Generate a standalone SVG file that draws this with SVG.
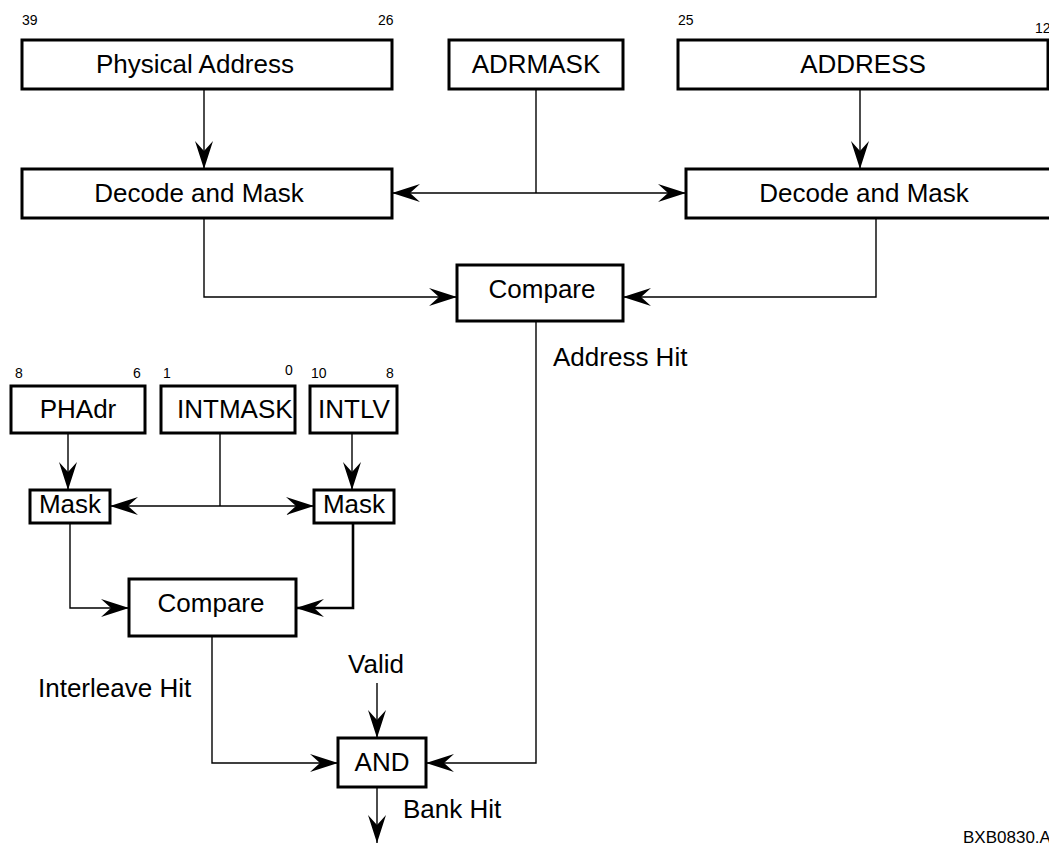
<svg xmlns="http://www.w3.org/2000/svg" width="1049" height="844" viewBox="0 0 1049 844">
  <style>
    .box { fill: #fff; stroke: #000; stroke-width: 3; }
    .wire { fill: none; stroke: #000; stroke-width: 1.4; }
    .wire.heavy { stroke-width: 2.6; }
    .lbl { font-family: "Liberation Sans", Arial, sans-serif; font-size: 26px; fill: #000; }
    .mid { text-anchor: middle; }
    .bit { font-family: "Liberation Sans", Arial, sans-serif; font-size: 14px; fill: #000; }
    .tag { font-family: "Liberation Sans", Arial, sans-serif; font-size: 17px; fill: #000; }
  </style>
  <defs>
    <marker id="head" viewBox="0 0 28 18" refX="28" refY="9" markerWidth="28" markerHeight="18" markerUnits="userSpaceOnUse" orient="auto">
      <path d="M0,0 L28,9 L0,18 L10,9 Z" fill="#000"/>
    </marker>
  </defs>
  <rect width="1049" height="844" fill="#fff"/>

  <!-- connectors -->
  <g id="connectors">
    <line class="wire" x1="204" y1="89" x2="204" y2="169" marker-end="url(#head)"/>
    <line class="wire" x1="860" y1="89" x2="860" y2="169" marker-end="url(#head)"/>
    <line class="wire" x1="536" y1="89" x2="536" y2="193"/>
    <line class="wire" x1="536" y1="193" x2="392" y2="193" marker-end="url(#head)"/>
    <line class="wire" x1="536" y1="193" x2="686" y2="193" marker-end="url(#head)"/>
    <polyline class="wire" points="204,218 204,297 457,297" marker-end="url(#head)"/>
    <polyline class="wire" points="876,218 876,297 623,297" marker-end="url(#head)"/>
    <polyline class="wire" points="536,321 536,763 426,763" marker-end="url(#head)"/>

    <line class="wire" x1="68" y1="433" x2="68" y2="490" marker-end="url(#head)"/>
    <line class="wire" x1="352" y1="433" x2="352" y2="490" marker-end="url(#head)"/>
    <line class="wire" x1="220" y1="433" x2="220" y2="506"/>
    <line class="wire" x1="220" y1="506" x2="110" y2="506" marker-end="url(#head)"/>
    <line class="wire" x1="220" y1="506" x2="314" y2="506" marker-end="url(#head)"/>
    <polyline class="wire" points="70,523 70,608 129,608" marker-end="url(#head)"/>
    <polyline class="wire heavy" points="353,523 353,608 296,608" marker-end="url(#head)"/>
    <polyline class="wire" points="212,636 212,763 338,763" marker-end="url(#head)"/>

    <line class="wire" x1="377" y1="683" x2="377" y2="738" marker-end="url(#head)"/>
    <line class="wire" x1="377" y1="787" x2="377" y2="843" marker-end="url(#head)"/>
  </g>

  <!-- address path -->
  <g id="physical-address">
    <rect class="box" x="22" y="40" width="370" height="49"/>
    <text class="lbl mid" x="195" y="73">Physical Address</text>
    <text class="bit" x="22" y="25">39</text>
    <text class="bit" x="378" y="25">26</text>
  </g>
  <g id="adrmask">
    <rect class="box" x="449" y="40" width="174" height="49"/>
    <text class="lbl mid" x="536" y="73">ADRMASK</text>
  </g>
  <g id="address">
    <rect class="box" x="678" y="40" width="370" height="49"/>
    <text class="lbl mid" x="863" y="73">ADDRESS</text>
    <text class="bit" x="678" y="25">25</text>
    <text class="bit" x="1035" y="33">12</text>
  </g>
  <g id="decode-left">
    <rect class="box" x="22" y="169" width="370" height="49"/>
    <text class="lbl mid" x="199" y="202">Decode and Mask</text>
  </g>
  <g id="decode-right">
    <rect class="box" x="686" y="169" width="380" height="49"/>
    <text class="lbl mid" x="864" y="202">Decode and Mask</text>
  </g>
  <g id="compare-address">
    <rect class="box" x="457" y="265" width="166" height="56"/>
    <text class="lbl mid" x="542" y="298">Compare</text>
  </g>
  <text class="lbl" x="553" y="366">Address Hit</text>

  <!-- interleave path -->
  <g id="phadr">
    <rect class="box" x="11" y="386" width="134" height="47"/>
    <text class="lbl mid" x="78" y="418">PHAdr</text>
    <text class="bit" x="15" y="378">8</text>
    <text class="bit" x="133" y="378">6</text>
  </g>
  <g id="intmask">
    <rect class="box" x="161" y="386" width="134" height="47"/>
    <text class="lbl" x="177" y="418">INTMASK</text>
    <text class="bit" x="163" y="378">1</text>
    <text class="bit" x="285" y="375">0</text>
  </g>
  <g id="intlv">
    <rect class="box" x="310" y="386" width="87" height="47"/>
    <text class="lbl mid" x="354" y="418">INTLV</text>
    <text class="bit" x="311" y="378">10</text>
    <text class="bit" x="386" y="378">8</text>
  </g>
  <g id="mask-left">
    <rect class="box" x="30" y="490" width="80" height="33"/>
    <text class="lbl mid" x="70" y="513">Mask</text>
  </g>
  <g id="mask-right">
    <rect class="box" x="314" y="490" width="80" height="33"/>
    <text class="lbl mid" x="354" y="513">Mask</text>
  </g>
  <g id="compare-interleave">
    <rect class="box" x="129" y="579" width="167" height="57"/>
    <text class="lbl mid" x="211" y="612">Compare</text>
  </g>
  <text class="lbl" x="38" y="697">Interleave Hit</text>

  <!-- final gate -->
  <text class="lbl mid" x="376" y="673">Valid</text>
  <g id="and-gate">
    <rect class="box" x="338" y="738" width="88" height="49"/>
    <text class="lbl mid" x="382" y="771">AND</text>
  </g>
  <text class="lbl" x="403" y="818">Bank Hit</text>

  <text class="tag" x="963" y="843">BXB0830.AI</text>
</svg>
